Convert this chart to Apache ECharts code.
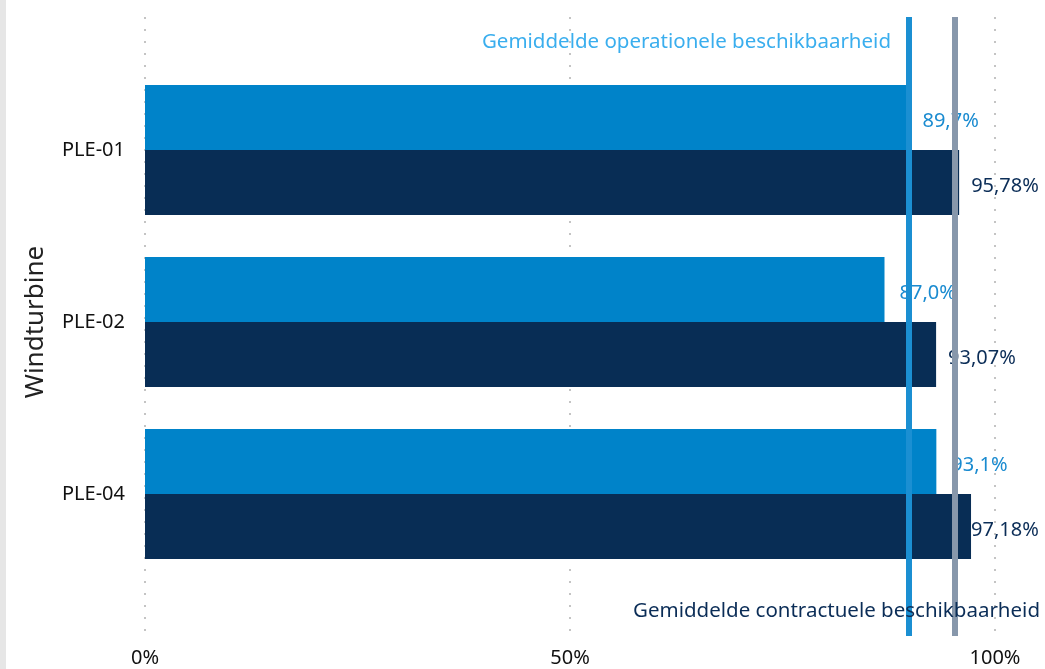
<!DOCTYPE html>
<html>
<head>
<meta charset="utf-8">
<script src="https://cdn.jsdelivr.net/npm/echarts@6/dist/echarts.min.js"></script>
<style>html,body{margin:0;padding:0;background:#fff}#c{width:1045px;height:669px}</style>
</head>
<body>
<div id="c"></div>
<script>
const categories = ['PLE-01', 'PLE-02', 'PLE-04'];
const operational = [89.7, 87.0, 93.1];
const contractual = [95.78, 93.07, 97.18];
const avgOperational = 89.9;
const avgContractual = 95.3;
const xTicks = [0, 50, 100];

const FONT = 'Noto Sans';
const fmt = (v, d) => v.toFixed(d).replace('.', ',') + '%';

const chart = echarts.init(document.getElementById('c'));
chart.setOption({
  backgroundColor: '#ffffff',
  animation: false,
  textStyle: { fontFamily: FONT },
  graphic: [{ type: 'rect', left: 0, top: 0, shape: { width: 6, height: 669 }, style: { fill: '#e6e6e6' }, silent: true }],
  title: [
    { text: 'Gemiddelde operationele beschikbaarheid', right: 154, top: 32, padding: 0,
      textStyle: { color: '#3aaeee', fontSize: 20.5, fontWeight: 'normal', fontFamily: FONT } },
    { text: 'Gemiddelde contractuele beschikbaarheid', right: 5, top: 601, padding: 0,
      textStyle: { color: '#0b2d57', fontSize: 20.5, fontWeight: 'normal', fontFamily: FONT } }
  ],
  grid: [
    { left: 145, width: 850, top: 64, height: 516 },
    { left: 145, width: 850, top: 17, height: 619 }
  ],
  xAxis: [
    { gridIndex: 0, type: 'value', min: 0, max: 100, interval: 50, show: false, splitLine: { show: false } },
    { gridIndex: 1, type: 'value', min: 0, max: 100, interval: 50,
      axisLine: { show: false }, axisTick: { show: false },
      axisLabel: { formatter: v => xTicks.includes(v) ? v + '%' : '', fontSize: 20, color: '#111', margin: 12, fontFamily: FONT },
      splitLine: { show: true, lineStyle: { color: '#c4c4c4', width: 2, type: [2, 10] } } }
  ],
  yAxis: [
    { gridIndex: 0, type: 'category', data: categories, inverse: true,
      axisLine: { show: false }, axisTick: { show: false },
      axisLabel: { fontSize: 20, color: '#111', margin: 20, fontFamily: FONT },
      name: 'Windturbine', nameLocation: 'middle', nameRotate: 90, nameGap: 96,
      nameTextStyle: { fontSize: 26, color: '#222', fontFamily: FONT } },
    { gridIndex: 1, type: 'value', min: 0, max: 1, show: false }
  ],
  series: [
    { type: 'bar', name: 'Operationeel', xAxisIndex: 0, yAxisIndex: 0, data: operational,
      barWidth: 65, barGap: '0%', itemStyle: { color: '#0083c9' },
      label: { show: true, position: 'right', distance: 15, offset: [0, 4], fontSize: 20, color: '#1a8bd0',
        fontFamily: FONT, formatter: p => fmt(p.value, 1) } },
    { type: 'bar', name: 'Contractueel', xAxisIndex: 0, yAxisIndex: 0,
      data: contractual.map(v => v > 96 ? { value: v, label: { distance: 0 } } : v),
      barWidth: 65, barGap: '0%', itemStyle: { color: '#082d55' },
      label: { show: true, position: 'right', distance: 12, offset: [0, 4], fontSize: 20, color: '#0b2d57',
        fontFamily: FONT, formatter: p => fmt(p.value, 2) } },
    { type: 'scatter', xAxisIndex: 1, yAxisIndex: 1, data: [], z: 10,
      markLine: { silent: true, symbol: 'none', label: { show: false },
        data: [
          { xAxis: avgOperational, lineStyle: { color: '#1b8fd2', width: 6, type: 'solid' } },
          { xAxis: avgContractual, lineStyle: { color: '#8797ab', width: 6, type: 'solid' } }
        ] } }
  ]
});
</script>
</body>
</html>
